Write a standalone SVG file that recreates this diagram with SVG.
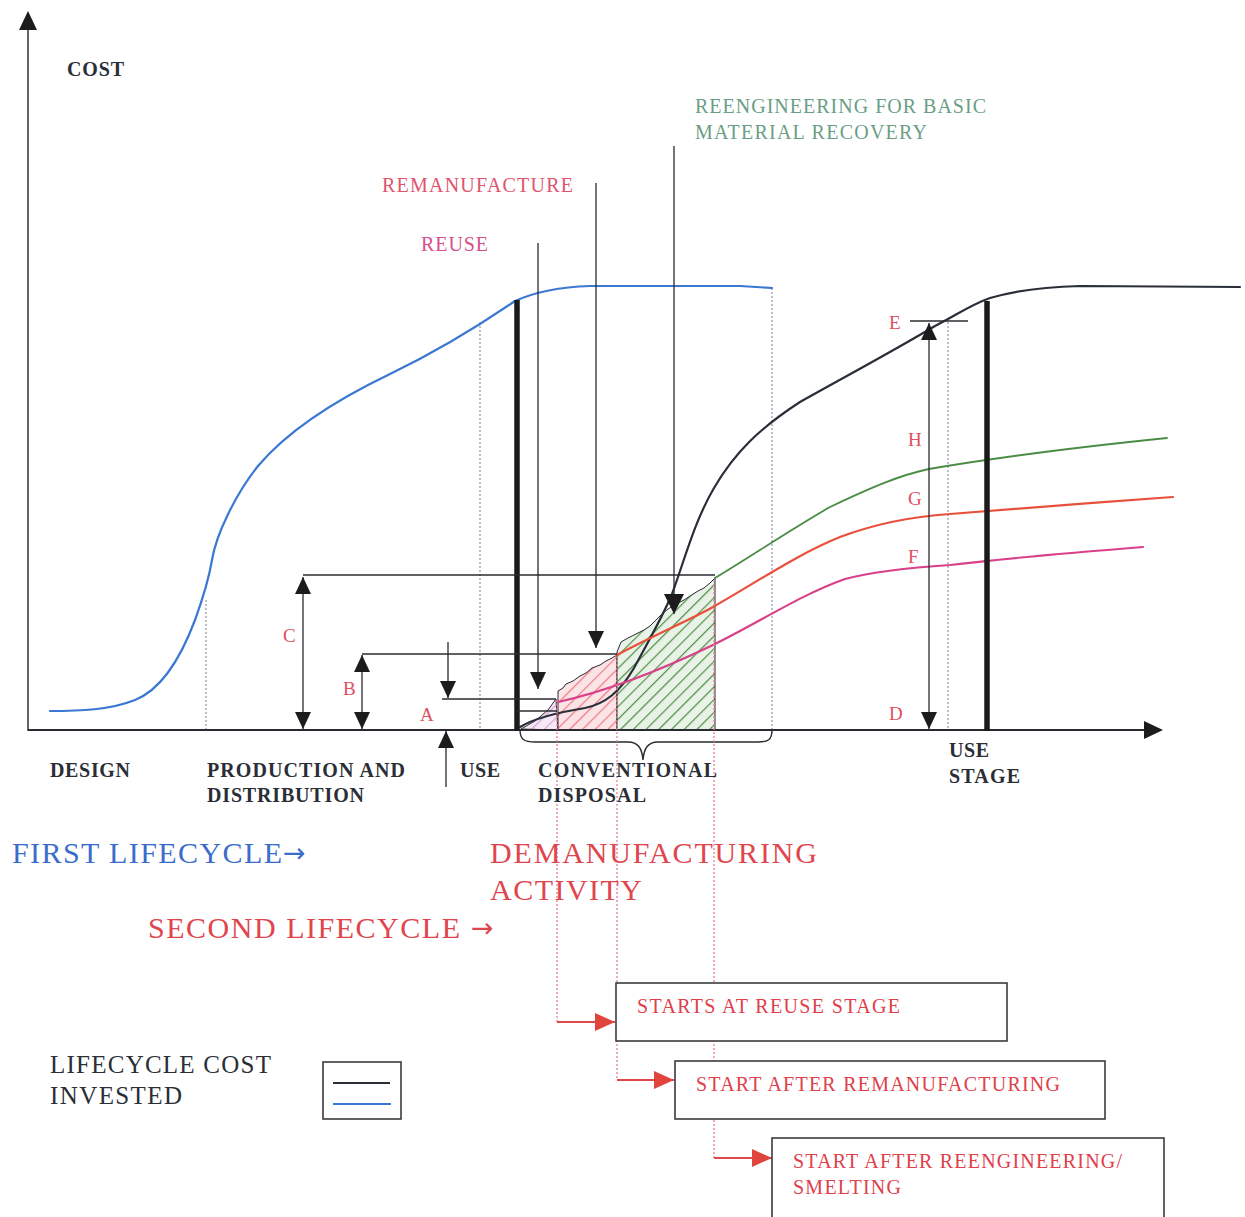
<svg xmlns="http://www.w3.org/2000/svg" width="1245" height="1217" viewBox="0 0 1245 1217">
  <style>
    text { font-family: "Liberation Serif", "Times New Roman", serif; }
    .bold { font-weight: bold; fill: #2a2e36; font-size: 20px; }
    .lab { fill: #e0505e; font-size: 19px; }
    .box { fill: #ffffff; stroke: #3a3a40; stroke-width: 1.6; }
    .boxtxt { fill: #e0404a; font-size: 20px; }
    .thin { stroke: #2a2a30; stroke-width: 1.3; fill: none; }
    .thick { stroke: #1a1a1a; stroke-width: 5.5; fill: none; }
    .grid { stroke: #c0bccb; stroke-width: 2; stroke-dasharray: 2 2; fill: none; }
    .pdot { stroke: #ec7c98; stroke-width: 1.3; stroke-dasharray: 2 2; fill: none; }
    .rarrow { stroke: #e04848; stroke-width: 2.2; fill: none; marker-end: url(#redHead); }
    .dim { stroke: #2a2a30; stroke-width: 1.3; fill: none; marker-start: url(#blkHead); marker-end: url(#blkHead); }
    .single { stroke: #2a2a30; stroke-width: 1.3; fill: none; marker-end: url(#blkHead); }
    .arrowglyph { font-family: "DejaVu Sans", sans-serif; font-size: 27px; }
  </style>
  <defs>
    <marker id="blkHead" viewBox="0 0 17 16" refX="17" refY="8" markerWidth="17" markerHeight="16" markerUnits="userSpaceOnUse" orient="auto-start-reverse">
      <path d="M0,0 L17,8 L0,16 z" fill="#1c1c1c"/>
    </marker>
    <marker id="bigHead" viewBox="0 0 20 20" refX="20" refY="10" markerWidth="20" markerHeight="20" markerUnits="userSpaceOnUse" orient="auto">
      <path d="M0,0 L20,10 L0,20 z" fill="#1c1c1c"/>
    </marker>
    <marker id="redHead" viewBox="0 0 20 18" refX="20" refY="9" markerWidth="20" markerHeight="18" markerUnits="userSpaceOnUse" orient="auto">
      <path d="M0,0 L20,9 L0,18 z" fill="#e0443c"/>
    </marker>
    <pattern id="hatchPink" width="9" height="9" patternUnits="userSpaceOnUse" patternTransform="rotate(45)">
      <rect width="9" height="9" fill="#fbe3e6"/>
      <line x1="0" y1="0" x2="0" y2="9" stroke="#ee7a86" stroke-width="2.4"/>
    </pattern>
    <pattern id="hatchGreen" width="9" height="9" patternUnits="userSpaceOnUse" patternTransform="rotate(45)">
      <rect width="9" height="9" fill="#e8f2e6"/>
      <line x1="0" y1="0" x2="0" y2="9" stroke="#4f9046" stroke-width="2.4"/>
    </pattern>
    <pattern id="hatchLilac" width="9" height="9" patternUnits="userSpaceOnUse" patternTransform="rotate(45)">
      <rect width="9" height="9" fill="#f6e8f4"/>
      <line x1="0" y1="0" x2="0" y2="9" stroke="#dca0d8" stroke-width="2.4"/>
    </pattern>
  </defs>

  <rect width="1245" height="1217" fill="#ffffff"/>

  <!-- hatched recovery regions under the second-lifecycle curve -->
  <g id="hatch-areas">
    <path d="M521,729 L535,721 L548,710 L556,699 L558,730 Z" fill="url(#hatchLilac)" stroke="#2a2a30" stroke-width="1"/>
    <path d="M558,730 L558,691 L563,688 L566,684 L573,681 L580,676 L586,673 L592,668 L600,665 L606,661 L612,658 L617,655 L617,730 Z" fill="url(#hatchPink)" stroke="#2a2a30" stroke-width="1"/>
    <path d="M617,730 L617,652 L621,642 L628,638 L636,634 L644,630 L650,626 L656,620 L662,614 L668,609 L676,604 L684,600 L690,596 L698,591 L704,588 L710,583 L715,578 L715,730 Z" fill="url(#hatchGreen)" stroke="#2a2a30" stroke-width="1"/>
  </g>

  <!-- dotted stage divisions -->
  <g id="grid-lines">
    <line class="grid" x1="206" y1="600" x2="206" y2="730"/>
    <line class="grid" x1="480" y1="322" x2="480" y2="730"/>
    <line class="grid" x1="772" y1="288" x2="772" y2="733"/>
    <line class="grid" x1="948" y1="322" x2="948" y2="730"/>
  </g>

  <!-- axes -->
  <g id="axes">
    <line x1="28" y1="731" x2="28" y2="26" stroke="#3a3e48" stroke-width="1.6"/>
    <path d="M19,30 L28,11 L37,30 z" fill="#1c1c1c"/>
    <line x1="28" y1="730" x2="1146" y2="730" stroke="#2a2a30" stroke-width="1.8"/>
    <path d="M1144,721 L1163,730 L1144,739 z" fill="#1c1c1c"/>
  </g>

  <!-- cost curves -->
  <g id="curves" fill="none" stroke-linecap="round">
    <path id="first-lifecycle" d="M50,711 C80,711 110,710 135,700 C160,690 180,660 195,620 C203,598 209,578 212,560 C216,535 235,495 258,466 C290,428 340,398 390,374 C440,350 480,325 515,301 C535,292 560,287 590,286 L740,286 L772,288" stroke="#3a78d2" stroke-width="2.2"/>
    <path id="second-lifecycle" d="M520,727 C535,718 560,712 585,708 C605,704 620,692 634,668 C648,642 662,618 672,594 C684,562 694,522 714,488 C735,452 760,428 800,402 C850,374 895,350 935,326 C955,316 970,305 990,298 C1010,292 1040,287 1080,286 L1240,287" stroke="#2a2e38" stroke-width="2.2"/>
    <path id="recovery-material" d="M715,578 C750,557 790,530 830,507 C870,488 900,475 929,469 C970,462 1050,450 1167,438" stroke="#4a8c44" stroke-width="1.8"/>
    <path id="recovery-remanufacture" d="M617,655 C650,637 690,620 713,607 C760,580 800,553 840,537 C880,522 920,516 950,514 C1000,510 1100,502 1173,497" stroke="#e8503c" stroke-width="2.2"/>
    <path id="recovery-reuse" d="M558,702 C590,695 640,680 713,645 C760,622 800,595 845,579 C880,570 920,567 950,565 C1000,559 1080,552 1143,547" stroke="#d8408a" stroke-width="2.2"/>
  </g>

  <!-- lifecycle boundaries -->
  <g id="boundaries">
    <line class="thick" x1="517" y1="300" x2="517" y2="731"/>
    <line class="thick" x1="987" y1="301" x2="987" y2="731"/>
  </g>

  <!-- curly brace over the demanufacturing span -->
  <path id="brace" d="M520,730 C520,740 525,742 535,742 L628,742 C638,742 642,748 643,760 C644,748 648,742 658,742 L758,742 C768,742 772,740 772,730" fill="none" stroke="#2a2a30" stroke-width="1.4"/>

  <!-- dimension lines and pointers -->
  <g id="connectors">
    <line class="thin" x1="303" y1="575" x2="715" y2="575"/>
    <line class="thin" x1="362" y1="654" x2="617" y2="654"/>
    <line class="thin" x1="442" y1="699" x2="556" y2="699"/>
    <line class="thin" x1="517" y1="711" x2="557" y2="711"/>
    <line class="dim" x1="303" y1="577" x2="303" y2="729"/>
    <line class="dim" x1="362" y1="655" x2="362" y2="729"/>
    <line class="single" x1="448" y1="642" x2="448" y2="698"/>
    <line class="single" x1="446" y1="787" x2="446" y2="731"/>
    <line class="single" x1="538" y1="243" x2="538" y2="689"/>
    <line class="single" x1="596" y1="183" x2="596" y2="648"/>
    <line x1="674" y1="146" x2="674" y2="614" stroke="#2a2a30" stroke-width="1.3" marker-end="url(#bigHead)"/>
    <line class="thin" x1="910" y1="321" x2="968" y2="321"/>
    <line class="dim" x1="929" y1="323" x2="929" y2="729"/>
    <!-- dotted leaders from each recovery start down to its stage box -->
    <path class="pdot" d="M557,700 L557,1022"/>
    <path class="pdot" d="M617,656 L617,1080"/>
    <path class="pdot" d="M714,580 L714,1158"/>
    <line class="rarrow" x1="557" y1="1022" x2="615" y2="1022"/>
    <line class="rarrow" x1="617" y1="1080" x2="674" y2="1080"/>
    <line class="rarrow" x1="714" y1="1158" x2="772" y2="1158"/>
  </g>

  <!-- dimension letters -->
  <g id="dim-labels">
    <text class="lab" x="283" y="642">C</text>
    <text class="lab" x="343" y="695">B</text>
    <text class="lab" x="420" y="721">A</text>
    <text class="lab" x="889" y="329">E</text>
    <text class="lab" x="908" y="446">H</text>
    <text class="lab" x="908" y="505">G</text>
    <text class="lab" x="908" y="563">F</text>
    <text class="lab" x="889" y="720">D</text>
  </g>

  <g id="label-cost"><text class="bold" x="67" y="76" textLength="57">COST</text></g>
  <g id="label-reengineering">
    <text x="695" y="113" fill="#6a9e84" font-size="20" textLength="291">REENGINEERING FOR BASIC</text>
    <text x="695" y="139" fill="#6a9e84" font-size="20" textLength="232">MATERIAL RECOVERY</text>
  </g>
  <g id="label-remanufacture"><text x="382" y="192" fill="#e0546e" font-size="20" textLength="191">REMANUFACTURE</text></g>
  <g id="label-reuse"><text x="421" y="251" fill="#d6508c" font-size="20" textLength="67">REUSE</text></g>

  <g id="stage-labels">
    <text class="bold" x="50" y="777" textLength="80">DESIGN</text>
    <text class="bold" x="207" y="777" textLength="198">PRODUCTION AND</text>
    <text class="bold" x="207" y="802" textLength="157">DISTRIBUTION</text>
    <text class="bold" x="460" y="777" textLength="40">USE</text>
    <text class="bold" x="538" y="777" textLength="179">CONVENTIONAL</text>
    <text class="bold" x="538" y="802" textLength="108">DISPOSAL</text>
    <text class="bold" x="949" y="757" textLength="40">USE</text>
    <text class="bold" x="949" y="783" textLength="71">STAGE</text>
  </g>

  <g id="label-first-lifecycle">
    <text x="12" y="863" fill="#3a6ccc" font-size="30" textLength="270">FIRST LIFECYCLE</text>
    <text class="arrowglyph" x="283" y="862" fill="#3a6ccc">→</text>
  </g>
  <g id="label-demanufacturing">
    <text x="490" y="863" fill="#e0454e" font-size="30" textLength="327">DEMANUFACTURING</text>
    <text x="490" y="900" fill="#e0454e" font-size="30" textLength="152">ACTIVITY</text>
  </g>
  <g id="label-second-lifecycle">
    <text x="148" y="938" fill="#e0454e" font-size="30" textLength="312">SECOND LIFECYCLE</text>
    <text class="arrowglyph" x="471" y="937" fill="#e0454e">→</text>
  </g>

  <g id="box-reuse">
    <rect class="box" x="616" y="983" width="391" height="58"/>
    <text class="boxtxt" x="637" y="1013" textLength="263">STARTS AT REUSE STAGE</text>
  </g>
  <g id="box-remanufacture">
    <rect class="box" x="675" y="1061" width="430" height="58"/>
    <text class="boxtxt" x="696" y="1091" textLength="364">START AFTER REMANUFACTURING</text>
  </g>
  <g id="box-reengineering">
    <rect class="box" x="772" y="1138" width="392" height="90"/>
    <text class="boxtxt" x="793" y="1168" textLength="329">START AFTER REENGINEERING/</text>
    <text class="boxtxt" x="793" y="1194" textLength="108">SMELTING</text>
  </g>

  <g id="legend">
    <text x="50" y="1073" fill="#2a2e36" font-size="25" textLength="221">LIFECYCLE COST</text>
    <text x="50" y="1104" fill="#2a2e36" font-size="25" textLength="132">INVESTED</text>
    <rect class="box" x="323" y="1062" width="78" height="57"/>
    <line x1="333" y1="1083" x2="390" y2="1083" stroke="#2a2e38" stroke-width="2"/>
    <line x1="333" y1="1104" x2="391" y2="1104" stroke="#3a78d2" stroke-width="2"/>
  </g>
</svg>
